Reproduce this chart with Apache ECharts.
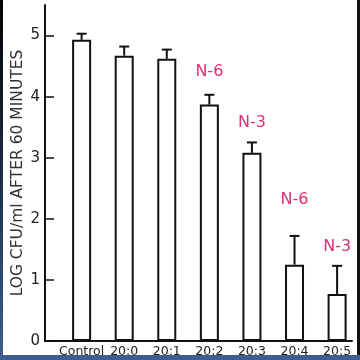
<!DOCTYPE html>
<html>
<head>
<meta charset="utf-8">
<style>
html,body{margin:0;padding:0;background:#fff;}
#c{width:360px;height:360px;}
</style>
<script src="https://cdn.jsdelivr.net/npm/echarts@6/dist/echarts.min.js"></script>
</head>
<body>
<div id="c"></div>
<script>
const categories = ['Control', '20:0', '20:1', '20:2', '20:3', '20:4', '20:5'];
const values = [4.93, 4.67, 4.62, 3.87, 3.08, 1.25, 0.77];
const errTop = [5.03, 4.82, 4.77, 4.03, 3.25, 1.72, 1.23];
const annotations = ['', '', '', 'N-6', 'N-3', 'N-6', 'N-3'];
const annotY = [0, 0, 0, 4.41, 3.57, 2.31, 1.54];
const yTicks = [0, 1, 2, 3, 4, 5];

const chart = echarts.init(document.getElementById('c'), null, {renderer: 'canvas'});
const idx = categories.map((_, i) => i);

chart.setOption({
  backgroundColor: '#fff',
  animation: false,
  grid: {left: 45, right: 8, top: 5, bottom: 19, outerBoundsMode: 'none', containLabel: false},
  xAxis: {
    type: 'value',
    min: -0.86, max: 6.35,
    splitLine: {show: false},
    axisLine: {show: true, onZero: false, lineStyle: {color: '#111', width: 2}},
    axisTick: {show: false},
    axisLabel: {
      customValues: idx,
      formatter: v => categories[Math.round(v)] || '',
      color: '#222', fontSize: 12.5, fontFamily: 'DejaVu Sans', margin: 4
    }
  },
  yAxis: {
    type: 'value',
    min: 0, max: 5.5, interval: 1,
    name: 'LOG CFU/ml AFTER 60 MINUTES',
    nameLocation: 'middle', nameGap: 19, nameRotate: 90, nameMoveOverlap: false,
    nameTextStyle: {color: '#333', fontSize: 15.5, fontFamily: 'DejaVu Sans'},
    splitLine: {show: false},
    axisLine: {show: true, onZero: false, lineStyle: {color: '#111', width: 2}},
    axisTick: {show: true, inside: true, length: 9, lineStyle: {color: '#111', width: 1.5}, customValues: yTicks},
    axisLabel: {customValues: yTicks, color: '#222', fontSize: 15, fontFamily: 'DejaVu Sans', margin: 5}
  },
  series: [
    {
      type: 'bar',
      data: idx.map(i => [i, values[i]]),
      barWidth: 19,
      itemStyle: {color: '#fff', borderColor: '#111', borderWidth: 2}
    },
    {
      type: 'custom',
      data: idx.map(i => [i, values[i], errTop[i]]),
      renderItem: function (params, api) {
        const x = api.value(0);
        const lo = api.coord([x, api.value(1)]);
        const hi = api.coord([x, api.value(2)]);
        const cap = 5;
        return {
          type: 'group',
          children: [
            {type: 'line', shape: {x1: lo[0], y1: lo[1], x2: hi[0], y2: hi[1]}, style: {stroke: '#111', lineWidth: 2}},
            {type: 'line', shape: {x1: hi[0] - cap, y1: hi[1], x2: hi[0] + cap, y2: hi[1]}, style: {stroke: '#111', lineWidth: 2}}
          ]
        };
      },
      z: 3
    },
    {
      type: 'custom',
      data: idx.map(i => [i, annotY[i]]),
      renderItem: function (params, api) {
        const i = params.dataIndex;
        const p = api.coord([api.value(0), api.value(1)]);
        return {
          type: 'text',
          style: {x: p[0], y: p[1], text: annotations[i], fill: '#dc2f78', fontSize: 16,
                  fontFamily: 'DejaVu Sans', align: 'center', verticalAlign: 'middle'}
        };
      },
      z: 4
    }
  ],
  graphic: [
    {type: 'rect', left: 0, top: 0, shape: {width: 3, height: 360},
     style: {fill: new echarts.graphic.LinearGradient(0, 0, 0, 1, [{offset: 0, color: '#000'}, {offset: 1, color: '#3d5f8f'}])}},
    {type: 'rect', left: 0, top: 355, shape: {width: 360, height: 5}, style: {fill: '#3d5f8f'}},
    {type: 'rect', left: 357, top: 0, shape: {width: 3, height: 355}, style: {fill: '#111'}}
  ]
});
</script>
</body>
</html>
